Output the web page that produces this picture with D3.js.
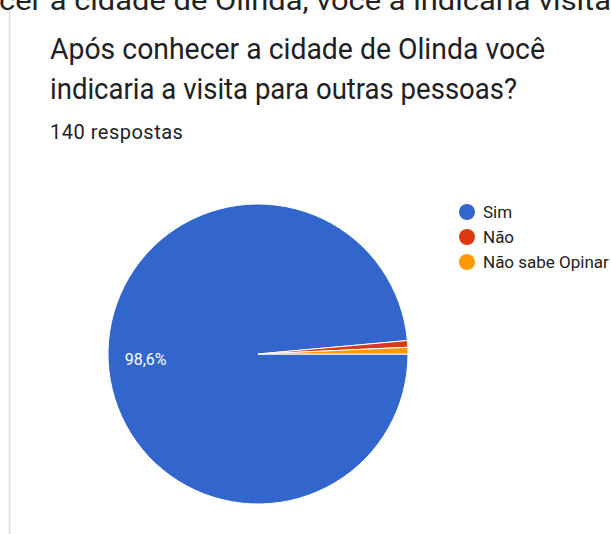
<!DOCTYPE html>
<html>
<head>
<meta charset="utf-8">
<script src="https://cdn.jsdelivr.net/npm/d3@7"></script>
<style>
  html, body { margin: 0; padding: 0; background: #fff; }
  svg { display: block; }
</style>
</head>
<body>
<svg id="chart" width="611" height="534"></svg>
<script>
// Survey answers
const categories = ["Sim", "Não", "Não sabe Opinar"];
const counts = [138, 1, 1];
const colors = ["#3366cc", "#dc3912", "#ff9900"];
const titleLines = ["Após conhecer a cidade de Olinda você", "indicaria a visita para outras pessoas?"];
const subtitle = "140 respostas";
const headerText = "cer a cidade de Olinda, você a indicaria visita";

const svg = d3.select("#chart");
const W = 611, H = 534;
const font = "Roboto, 'Noto Sans', Arial, sans-serif";

// Header line of the page above the card (runs past the top edge)
svg.append("text")
  .attr("x", -1).attr("y", 10)
  .attr("font-family", font).attr("font-size", 27)
  .attr("fill", "#222")
  .attr("textLength", 612).attr("lengthAdjust", "spacingAndGlyphs")
  .text(headerText);

// Card left border
svg.append("line")
  .attr("x1", 9.5).attr("x2", 9.5).attr("y1", 10).attr("y2", H)
  .attr("stroke", "#d9d9d9").attr("stroke-width", 1.5);

// Title (two lines, set to the card's text width)
const titleWidths = [495, 467];
svg.selectAll("text.title").data(titleLines).join("text")
  .attr("class", "title")
  .attr("x", 50).attr("y", (d, i) => 59 + i * 40)
  .attr("font-family", font).attr("font-size", 30)
  .attr("fill", "#202124")
  .attr("textLength", (d, i) => titleWidths[i])
  .attr("lengthAdjust", "spacingAndGlyphs")
  .text(d => d);

svg.append("text")
  .attr("x", 50).attr("y", 139)
  .attr("font-family", font).attr("font-size", 20)
  .attr("fill", "#202124")
  .attr("letter-spacing", 0.5)
  .text(subtitle);

// Pie
const cx = 258, cy = 354, r = 150;
const total = d3.sum(counts);
const pie = d3.pie().sort(null).value(d => d)
  .startAngle(Math.PI / 2).endAngle(Math.PI / 2 + 2 * Math.PI);
const arcs = pie(counts);
const arc = d3.arc().innerRadius(0).outerRadius(r);

const g = svg.append("g").attr("transform", `translate(${cx},${cy})`);
g.selectAll("path").data(arcs).join("path")
  .attr("d", arc)
  .attr("fill", (d, i) => colors[i])
  .attr("stroke", "#fff").attr("stroke-width", 1);

// Percentage label on the big slice
const fmt = v => d3.format(".1f")(v).replace(".", ",") + "%";
const big = arcs[0];
const mid = (big.startAngle + big.endAngle) / 2;
const lr = r * 0.75;
g.append("text")
  .attr("x", Math.sin(mid) * lr)
  .attr("y", -Math.cos(mid) * lr + 6)
  .attr("text-anchor", "middle")
  .attr("font-family", font).attr("font-size", 16)
  .attr("fill", "#fff")
  .text(fmt(counts[0] / total * 100));

// Legend
const legend = svg.append("g");
const ly = d3.scalePoint().domain(categories).range([212, 262]);
const items = legend.selectAll("g").data(categories).join("g")
  .attr("transform", d => `translate(467,${ly(d)})`);
items.append("circle").attr("r", 8).attr("fill", (d, i) => colors[i]);
items.append("text")
  .attr("x", 16).attr("y", 6)
  .attr("font-family", font).attr("font-size", 17)
  .attr("fill", "#222")
  .text(d => d);
</script>
</body>
</html>
